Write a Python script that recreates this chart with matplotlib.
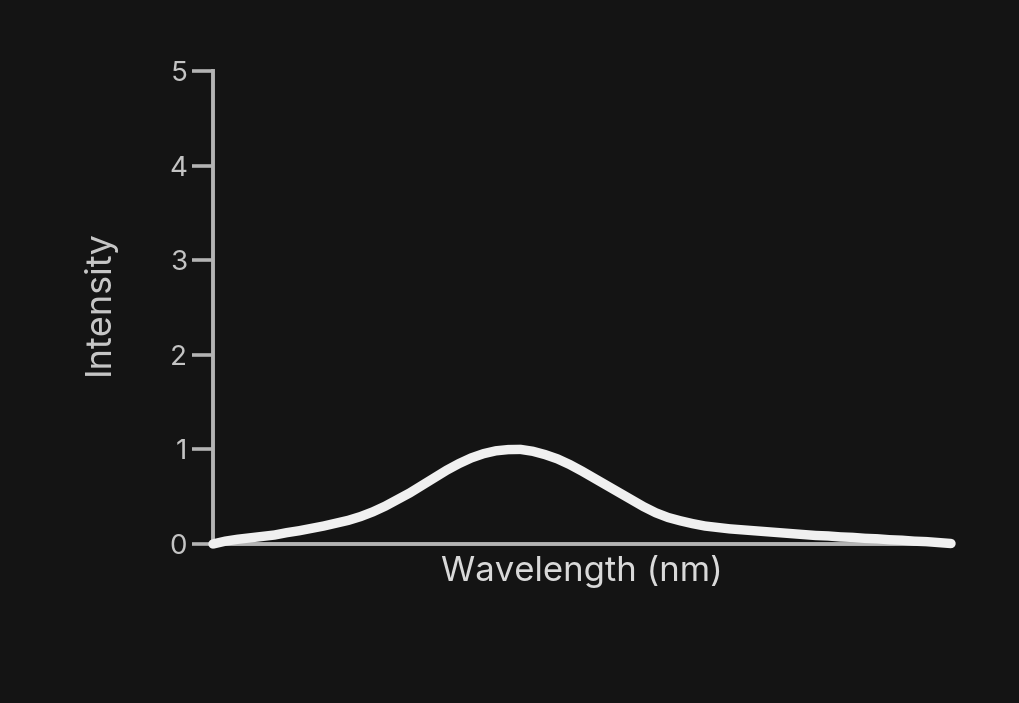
import matplotlib
matplotlib.use("Agg")
import matplotlib.pyplot as plt

wavelength_nm = [400, 405, 410, 415, 420, 425, 430, 435, 440, 445, 450, 455, 460, 465, 470,
                 475, 480, 485, 490, 495, 500, 505, 510, 515, 520, 525, 530, 535, 540, 545,
                 550, 555, 560, 565, 570, 575, 580, 585, 590, 595, 600, 605, 610, 615, 620,
                 625, 630, 635, 640, 645, 650, 655, 660, 665, 670, 675, 680, 685, 690, 695, 700]
intensity = [0.00, 0.03, 0.05, 0.065, 0.08, 0.095, 0.12, 0.14, 0.165, 0.19, 0.22, 0.25, 0.29,
             0.34, 0.40, 0.47, 0.54, 0.62, 0.70, 0.78, 0.85, 0.91, 0.955, 0.985, 0.998, 1.0,
             0.98, 0.945, 0.90, 0.84, 0.77, 0.695, 0.62, 0.545, 0.47, 0.395, 0.33, 0.28, 0.245,
             0.215, 0.19, 0.175, 0.16, 0.15, 0.14, 0.13, 0.12, 0.11, 0.10, 0.09, 0.085, 0.075,
             0.07, 0.06, 0.055, 0.045, 0.04, 0.03, 0.025, 0.015, 0.005]
y_ticks = [0, 1, 2, 3, 4, 5]
x_label = "Wavelength (nm)"
y_label = "Intensity"

BG = "#141414"
AXC = "#b4b4b4"
plt.rcParams['font.family'] = ['Inter', 'DejaVu Sans']

fig = plt.figure(figsize=(10.19, 7.03), dpi=100, facecolor=BG)
ax = fig.add_axes([213/1019, 1-544/703, (951-213)/1019, (544-71)/703], facecolor=BG)

ax.plot(wavelength_nm, intensity, color="#f0f0f0", lw=6.8, solid_capstyle="round",
        solid_joinstyle="round", clip_on=False, zorder=3)

ax.set_xlim(wavelength_nm[0], wavelength_nm[-1])
ax.set_ylim(0, 5)
ax.set_yticks(y_ticks)
ax.set_yticklabels([str(t) for t in y_ticks])
ax.set_xticks([])

for s in ["top", "right"]:
    ax.spines[s].set_visible(False)
for s in ["left", "bottom"]:
    ax.spines[s].set_color(AXC)
    ax.spines[s].set_linewidth(2.8)

ax.tick_params(axis="y", colors=AXC, length=15, width=2.6, pad=3.5, labelsize=20,
               labelcolor="#c4c4c4")

ax.set_xlabel(x_label, fontsize=25, color="#d9d9d9")
ax.set_ylabel(y_label, fontsize=26, color="#c8c8c8")
ax.xaxis.set_label_coords(0.5, -0.024)
ax.xaxis.label.set_va("top")
ax.yaxis.set_label_coords(-0.131, 0.51)

fig.savefig("out.png", dpi=100, facecolor=BG)
